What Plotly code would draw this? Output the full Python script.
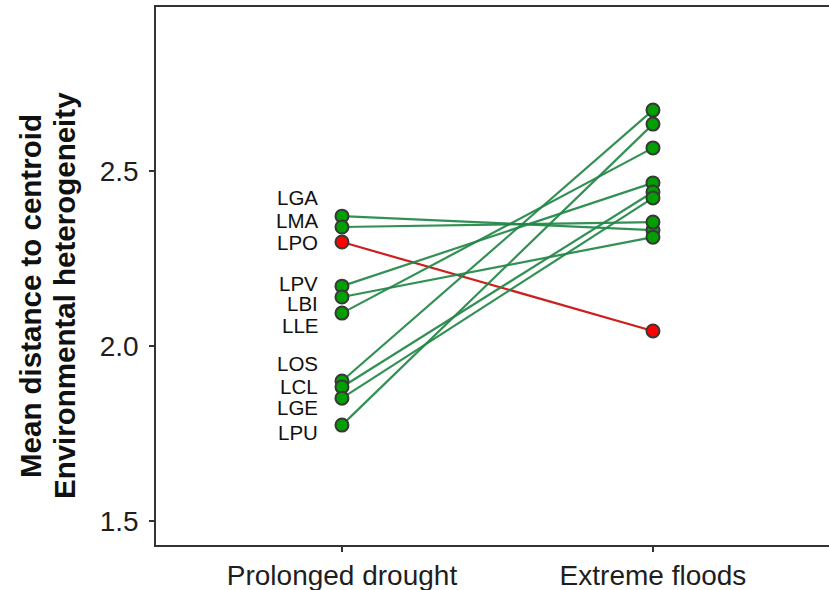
import plotly.graph_objects as go

# Mean distance to centroid per site, before and after the event
sites = ["LGA", "LMA", "LPO", "LPV", "LBI", "LLE", "LOS", "LCL", "LGE", "LPU"]
drought = [2.371, 2.340, 2.297, 2.171, 2.140, 2.094, 1.900, 1.883, 1.851, 1.774]
floods = [2.331, 2.354, 2.043, 2.466, 2.311, 2.566, 2.674, 2.440, 2.423, 2.634]
# Sites whose heterogeneity fell markedly after the floods
declined = ["LPO"]

conditions = ["Prolonged drought", "Extreme floods"]
cond_x = [1, 2]
y_ticks = [1.5, 2.0, 2.5]

# Repelled label offsets (data units) relative to each drought point
label_shift = [0.052, 0.020, 0.0, 0.009, -0.019, -0.034, 0.050, 0.0, -0.028, -0.020]

GREEN_LINE = "rgba(34,135,70,0.92)"
RED_LINE = "#cc1f1f"
GREEN_PT = "#00a000"
RED_PT = "#ff0000"
EDGE = "#383838"
FONT = "Liberation Sans, Arial, sans-serif"

is_red = [s in declined for s in sites]

fig = go.Figure()

# Connecting segments
for s, d, f, red in zip(sites, drought, floods, is_red):
    fig.add_trace(go.Scatter(
        x=cond_x, y=[d, f], mode="lines",
        line=dict(color=RED_LINE if red else GREEN_LINE, width=2.2),
        hoverinfo="skip", showlegend=False,
    ))

# Points on top
for vals, xv in ((drought, cond_x[0]), (floods, cond_x[1])):
    fig.add_trace(go.Scatter(
        x=[xv] * len(vals), y=vals, mode="markers",
        marker=dict(size=13, color=[RED_PT if red else GREEN_PT for red in is_red],
                    line=dict(color=EDGE, width=2)),
        text=sites, showlegend=False,
    ))

# Site labels
for s, d, off in zip(sites, drought, label_shift):
    fig.add_annotation(
        x=0.93, y=d + off, xref="x", yref="y", text=s, showarrow=False,
        xanchor="right", yanchor="middle",
        font=dict(family=FONT, size=20.5, color="#111111"),
    )

# Two-line y-axis title
for txt, px in (("Mean distance to centroid", 30), ("Environmental heterogeneity", 64)):
    fig.add_annotation(
        x=(px - 156) / 673, y=(545 - 296) / 538, xref="paper", yref="paper",
        text="<b>" + txt + "</b>", showarrow=False, textangle=-90,
        xanchor="center", yanchor="middle",
        font=dict(family=FONT, size=29.5, color="#111111"),
    )

fig.update_layout(
    width=829, height=590,
    margin=dict(l=156, r=0, t=7, b=45),
    paper_bgcolor="white", plot_bgcolor="white",
    showlegend=False,
    xaxis=dict(
        range=[0.402, 2.566], tickvals=cond_x, ticktext=conditions,
        showgrid=False, zeroline=False,
        showline=True, linecolor="#333333", linewidth=1.6, mirror=True,
        ticks="outside", ticklen=5, tickwidth=1.6, tickcolor="#333333",
        tickfont=dict(family=FONT, size=28, color="#1e1e1e"),
    ),
    yaxis=dict(
        range=[1.4314, 2.9686], tickvals=y_ticks, ticktext=["1.5", "2.0", "2.5"],
        showgrid=False, zeroline=False,
        showline=True, linecolor="#333333", linewidth=1.6, mirror=False,
        ticks="outside", ticklen=5, tickwidth=1.6, tickcolor="#333333",
        ticklabelstandoff=5,
        tickfont=dict(family=FONT, size=28, color="#1e1e1e"),
    ),
)

fig.write_html("out.html")
